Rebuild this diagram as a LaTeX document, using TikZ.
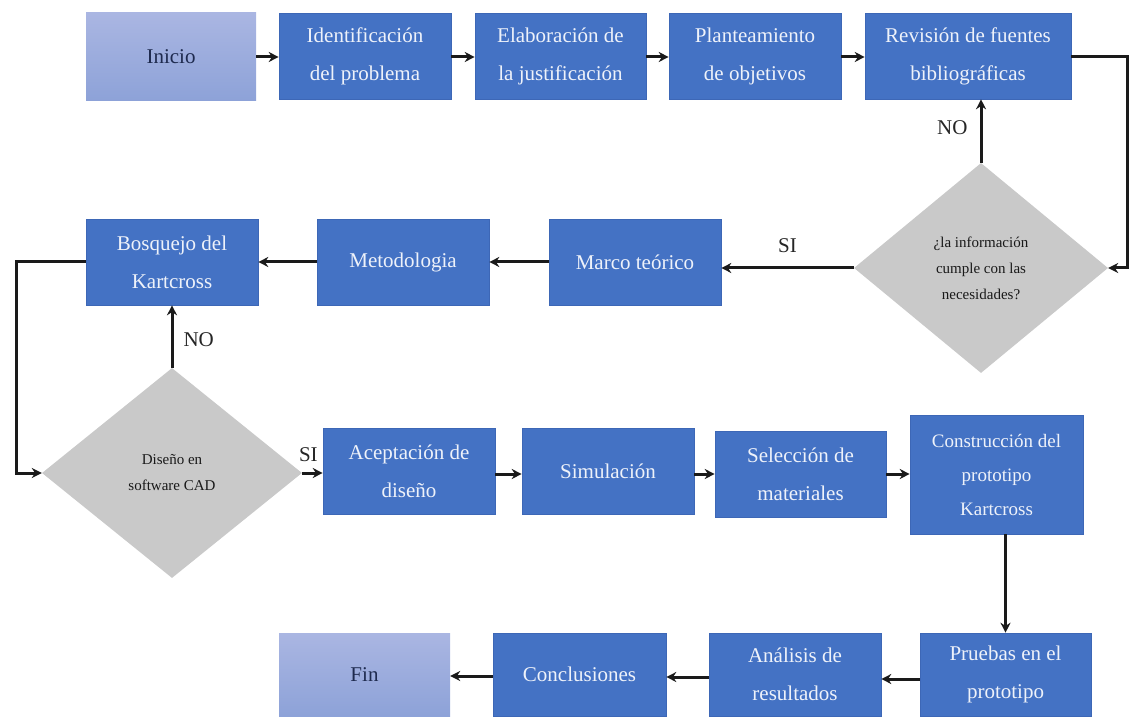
\documentclass[tikz,border=0pt]{standalone}
\usepackage{fontspec}
\setmainfont{Liberation Serif}
\usetikzlibrary{shapes.geometric,arrows.meta,calc}
\definecolor{boxblue}{HTML}{4472C4}
\definecolor{boxedge}{HTML}{3D67B6}
\definecolor{lighttop}{HTML}{AAB6E2}
\definecolor{lightbot}{HTML}{8DA2D8}
\definecolor{darkgray}{HTML}{C9C9C9}
\definecolor{navy}{HTML}{1E2A4E}
\definecolor{boxtext}{HTML}{EEF2FA}
\definecolor{linec}{HTML}{1A1A1A}
\tikzset{
  stepbox/.style={rectangle, fill=boxblue, draw=boxedge, line width=0.6pt, inner sep=0pt,
    align=center, text=boxtext, font=\fontsize{21}{38}\selectfont},
  endbox/.style={rectangle, top color=lighttop, bottom color=lightbot, draw=none, inner sep=0pt,
    align=center, text=navy, font=\fontsize{21}{38}\selectfont},
  decide/.style={diamond, fill=darkgray, draw=none, inner sep=0pt, align=center,
    text=black!90, font=\fontsize{15}{26}\selectfont},
  conn/.style={draw=linec, line width=3pt, -{Stealth[length=10pt,width=10pt]}},
  lbl/.style={font=\fontsize{21}{24}\selectfont, text=black!85, inner sep=0pt}
}
\begin{document}
\begin{tikzpicture}[x=1pt,y=-1pt]
\useasboundingbox (0,0) rectangle (1140,719);
% top row
\node[endbox, minimum width=170pt, minimum height=88pt] (ini) at (171,57) {Inicio};
\node[stepbox, minimum width=172pt, minimum height=86pt] (idp) at (365,56) {Identificación\\del problema};
\node[stepbox, minimum width=171pt, minimum height=86pt] (ela) at (560.5,56) {Elaboración de\\la justificación};
\node[stepbox, minimum width=172pt, minimum height=86pt] (pla) at (755,56) {Planteamiento\\de objetivos};
\node[stepbox, minimum width=206pt, minimum height=86pt] (rev) at (968,56) {Revisión de fuentes\\bibliográficas};
% first decision
\node[decide, minimum width=254pt, minimum height=210pt] (d1) at (981,268) {¿la información\\cumple con las\\necesidades?};
% second row
\node[stepbox, minimum width=172pt, minimum height=86pt] (mar) at (635,262) {Marco teórico};
\node[stepbox, minimum width=172pt, minimum height=86pt] (met) at (403,262) {Metodologia};
\node[stepbox, minimum width=172pt, minimum height=86pt] (bos) at (172,262) {Bosquejo del\\Kartcross};
% second decision
\node[decide, minimum width=260pt, minimum height=210pt] (d2) at (172,473) {Diseño en\\software CAD};
% third row
\node[stepbox, minimum width=172pt, minimum height=86pt] (ace) at (409,471) {Aceptación de\\diseño};
\node[stepbox, minimum width=172pt, minimum height=86pt] (sim) at (608,471) {Simulación};
\node[stepbox, minimum width=171pt, minimum height=86pt] (sel) at (800.5,474) {Selección de\\materiales};
\node[stepbox, minimum width=173pt, minimum height=119pt, font=\fontsize{19}{34}\selectfont] (con) at (996.5,474.5) {Construcción del\\prototipo\\Kartcross};
% bottom row
\node[stepbox, minimum width=171pt, minimum height=83pt] (pru) at (1005.5,674.5) {Pruebas en el\\prototipo};
\node[stepbox, minimum width=172pt, minimum height=83pt] (ana) at (795,674.5) {Análisis de\\resultados};
\node[stepbox, minimum width=173pt, minimum height=83pt] (conc) at (579.5,674.5) {Conclusiones};
\node[endbox, minimum width=171pt, minimum height=83pt] (fin) at (364.5,674.5) {Fin};
% connectors
\coordinate (rr) at (1127,57);
\coordinate (ll) at (16,262);
\draw[conn] (ini.east |- 0,57) -- (idp.west |- 0,57);
\draw[conn] (idp.east |- 0,57) -- (ela.west |- 0,57);
\draw[conn] (ela.east |- 0,57) -- (pla.west |- 0,57);
\draw[conn] (pla.east |- 0,57) -- (rev.west |- 0,57);
\draw[conn] (rev.east |- rr) -- (rr) |- (d1.east);
\draw[conn] (d1.north) -- (d1.north |- rev.south) node[lbl, pos=0.55, left=12pt] {NO};
\draw[conn] (d1.west) -- (mar.east |- d1.west) node[lbl, pos=0.5, above=14pt] {SI};
\draw[conn] (mar.west) -- (met.east);
\draw[conn] (met.west) -- (bos.east);
\draw[conn] (bos.west) -- (ll) |- (d2.west);
\draw[conn] (d2.north) -- (bos.south) node[lbl, pos=0.45, right=10pt] {NO};
\draw[conn] (d2.east) -- (ace.west |- d2.east) node[lbl, pos=0.3, above=10pt] {SI};
\draw[conn] (ace.east |- 0,474) -- (sim.west |- 0,474);
\draw[conn] (sim.east |- 0,474) -- (sel.west |- 0,474);
\draw[conn] (sel.east) -- (con.west |- sel.east);
\draw[conn] (pru.north |- con.south) -- (pru.north);
\draw[conn] (pru.west |- 0,679) -- (ana.east |- 0,679);
\draw[conn] (ana.west |- 0,677) -- (conc.east |- 0,677);
\draw[conn] (conc.west |- 0,676) -- (fin.east |- 0,676);
\end{tikzpicture}
\end{document}
